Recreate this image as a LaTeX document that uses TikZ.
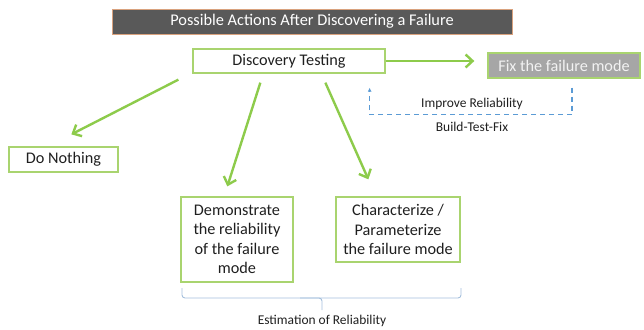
\documentclass[tikz,border=0pt]{standalone}
\usepackage{fontspec}
\setmainfont{Carlito}
\usetikzlibrary{arrows.meta}

\definecolor{barfill}{HTML}{595959}
\definecolor{baredge}{HTML}{D9A27E}
\definecolor{boxgreen}{HTML}{A9D46F}
\definecolor{arrowgreen}{HTML}{8DCB4B}
\definecolor{fixgray}{HTML}{A6A6A6}
\definecolor{loopblue}{HTML}{5B9BD5}
\definecolor{bracecolor}{HTML}{A4BFDC}
\definecolor{inktext}{HTML}{1F1F1F}

\begin{document}
\begin{tikzpicture}[x=1bp,y=-1bp,
    actionbox/.style={draw=boxgreen, line width=1.3bp, inner sep=0pt, align=center,
      text=inktext, font=\fontsize{16.3}{19.5}\selectfont},
    greenarrow/.style={draw=arrowgreen, line width=2.4bp,
      -{Straight Barb[length=7bp,width=13bp]}},
    loopline/.style={draw=loopblue, line width=1.1bp, dash pattern=on 5bp off 4bp,
      -{Latex[length=4bp,width=4bp]}},
    smalltext/.style={text=inktext, font=\fontsize{13.5}{16}\selectfont, inner sep=0pt},
  ]
  \newcommand{\boxh}{25bp}

  \useasboundingbox (0,0) rectangle (644,329);

  % Draw title bar
  \node[fill=barfill, draw=baredge, line width=0.8bp, minimum width=400bp, minimum height=\boxh,
    text=white, font=\fontsize{16.4}{19}\selectfont] (title) at (312,21.5)
    {Possible Actions After Discovering a Failure};

  % Draw action boxes
  \node[actionbox, minimum width=192bp, minimum height=24bp] (disc) at (289,61) {Discovery Testing};
  \node[actionbox, fill=fixgray, text=white!95!black, minimum width=152bp, minimum height=\boxh] (fix)
    at (564,65.5) {Fix the failure mode};
  \node[actionbox, minimum width=109bp, minimum height=\boxh] (nothing) at (63.5,159.5) {Do Nothing};
  \node[actionbox, minimum width=112bp, minimum height=85bp] (demo) at (237,239.5)
    {Demonstrate\\the reliability\\of the failure\\mode};
  \node[actionbox, minimum width=124bp, minimum height=65bp] (char) at (398,229.5)
    {Characterize /\\Parameterize\\the failure mode};

  % Draw arrows out of discovery testing
  \draw[greenarrow] (disc.east) -- ([xshift=-13bp]disc.east -| fix.west);
  \draw[greenarrow] ([xshift=-14bp,yshift=-6bp]disc.south west) -- ([xshift=63bp,yshift=12bp]nothing.north west);
  \draw[greenarrow] ([xshift=68bp,yshift=-9bp]disc.south west) -- ([xshift=47bp,yshift=10bp]demo.north west);
  \draw[greenarrow] ([xshift=133bp,yshift=-9bp]disc.south west) -- ([xshift=33bp,yshift=17bp]char.north west);

  % Draw build-test-fix loop
  \coordinate (fixdrop) at ([xshift=8bp,yshift=-9bp]fix.south);
  \coordinate (discrise) at ([xshift=-16bp,yshift=-14bp]disc.south east);
  \draw[loopline] (fixdrop) -- ++(0,27) -| (discrise);
  \node[smalltext] (improve) at (472,104) {Improve Reliability};
  \node[smalltext] (btf) at (472,127) {Build-Test-Fix};

  % Draw brace under the estimation boxes
  \draw[bracecolor, line width=0.9bp, rounded corners=3bp]
    (182,288) |- (322,298) -- (322,310);
  \draw[bracecolor, line width=0.9bp, rounded corners=3bp]
    (300,298) -| (461,288);
  \node[smalltext] (estim) at (322,321) {Estimation of Reliability};
\end{tikzpicture}
\end{document}
